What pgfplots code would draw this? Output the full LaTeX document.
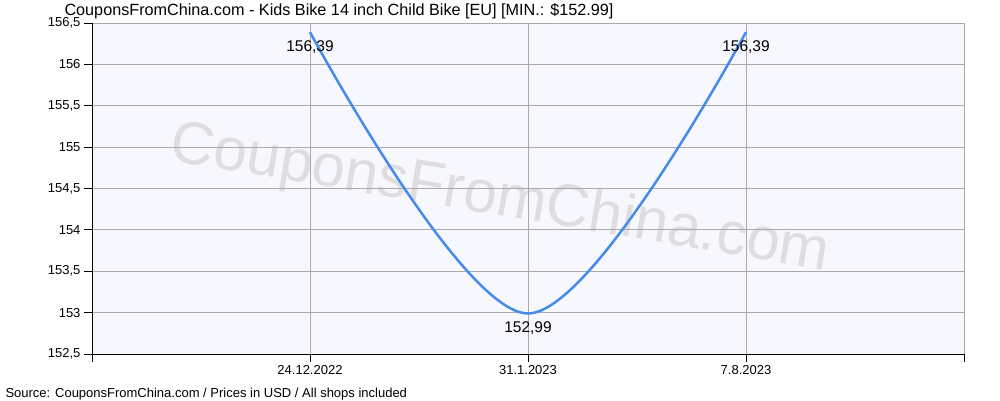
\documentclass[border=0pt]{standalone}
\usepackage{fontspec}
\setmainfont{Liberation Sans}
\usepackage{pgfplots}
\pgfplotsset{compat=1.18}

\definecolor{plotbg}{RGB}{247,248,254}
\definecolor{gridgray}{RGB}{170,170,170}
\definecolor{lineblue}{RGB}{70,138,236}
\definecolor{wmgray}{RGB}{222,222,224}

\begin{document}
\begin{tikzpicture}[x=1pt,y=1pt]
\path[use as bounding box] (0,0) rectangle (1000,400);
% plot area background and watermark
\fill[plotbg] (92,46) rectangle (964,377);
\node[rotate=-9.5, text=wmgray, font=\fontsize{60}{60}\selectfont] at (500,200) {CouponsFromChina.com};
\begin{axis}[
  at={(92pt,46pt)}, anchor=south west,
  scale only axis, width=872pt, height=331pt,
  xmin=0, xmax=4, ymin=152.5, ymax=156.5,
  axis x line*=bottom, axis y line*=left,
  axis line style={black, line width=0.8pt},
  xtick={0,1,2,3,4},
  xticklabels={,24.12.2022,31.1.2023,7.8.2023,},
  ytick={152.5,153,...,156.5},
  yticklabel style={/pgf/number format/.cd, fixed, use comma, precision=1},
  /pgf/number format/assume math mode=true,
  tick label style={font=\fontsize{13}{15}\selectfont, black},
  tick align=outside, major tick length=8pt,
  tick style={black, line width=0.8pt},
  grid=major, grid style={gridgray, line width=0.8pt},
  clip=false,
]
\addplot[lineblue, line width=2.5pt, smooth, tension=0.55,
  nodes near coords, point meta=explicit symbolic,
  every node near coord/.style={anchor=north, inner sep=0pt, yshift=-7pt,
    font=\fontsize{15.5}{17}\selectfont, text=black}]
  coordinates {(1,156.39) [156,39] (2,152.99) [152,99] (3,156.39) [156,39]};
\end{axis}
\node[anchor=west, font=\fontsize{16.2}{18}\selectfont] at (61,389) {CouponsFromChina.com - Kids Bike 14 inch Child Bike [EU] [MIN.: \$152.99]};
\node[anchor=west, font=\fontsize{13}{15}\selectfont] at (2,6) {Source: CouponsFromChina.com / Prices in USD / All shops included};
\end{tikzpicture}
\end{document}
